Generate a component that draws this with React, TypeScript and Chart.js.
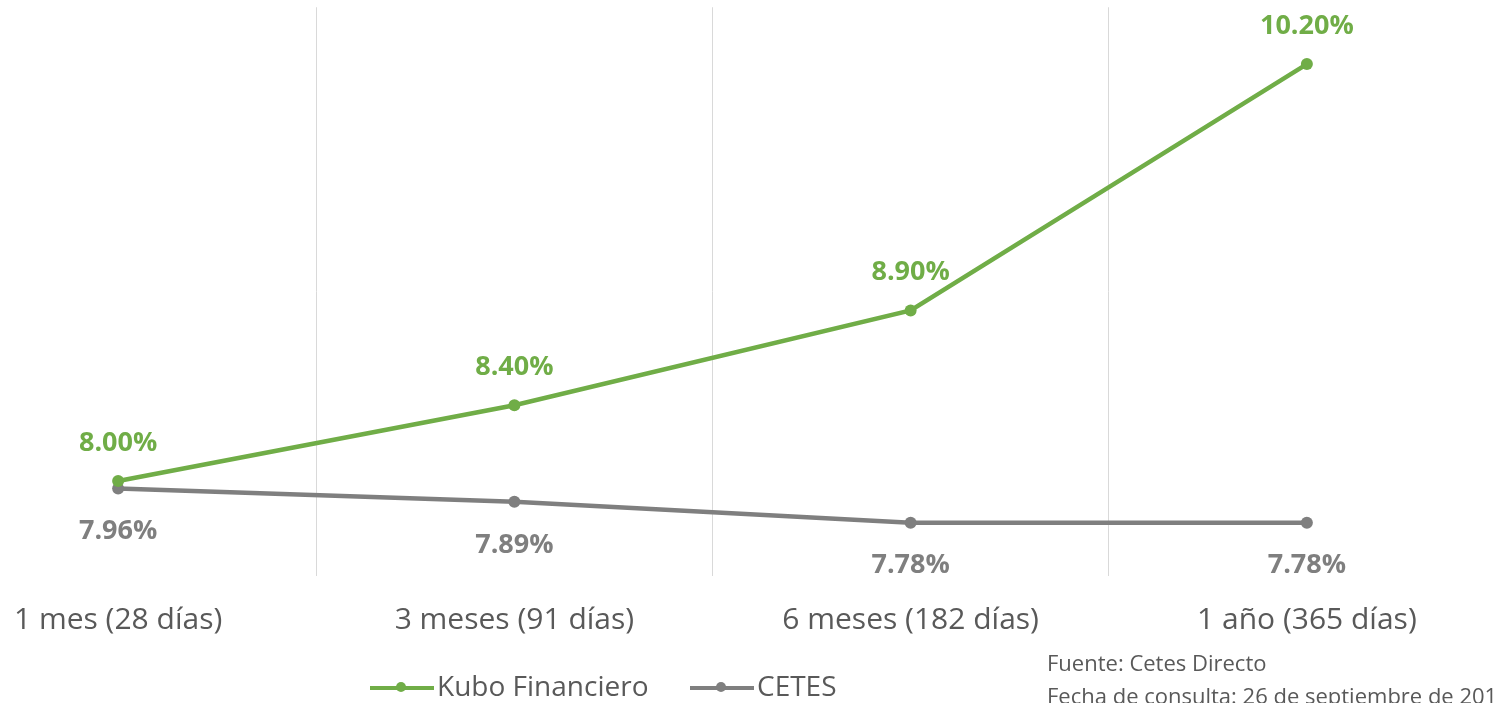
import React, { useEffect, useRef } from "react";
import { Chart, registerables } from "chart.js";

Chart.register(...registerables);

const categories = ["1 mes (28 días)", "3 meses (91 días)", "6 meses (182 días)", "1 año (365 días)"];
const kuboValues = [8.0, 8.4, 8.9, 10.2];
const cetesValues = [7.96, 7.89, 7.78, 7.78];
const seriesNames = ["Kubo Financiero", "CETES"];
const sourceLines = ["Fuente: Cetes Directo", "Fecha de consulta: 26 de septiembre de 2016"];

const GREEN = "#70AD47";
const GRAY = "#7F7F7F";
const TEXT = "#595959";
const FONT = "'Open Sans', Lato, sans-serif";

const CANVAS_W = 1600;
const CANVAS_H = 703;
const SHIFT = 80;

export default function App() {
  const ref = useRef<HTMLCanvasElement | null>(null);

  useEffect(() => {
    if (!ref.current) return;
    const labelsPlugin = {
      id: "valueLabels",
      afterDatasetsDraw(chart: any) {
        const ctx = chart.ctx;
        ctx.save();
        ctx.font = `bold 27px ${FONT}`;
        ctx.textAlign = "center";
        ctx.textBaseline = "middle";
        chart.data.datasets.forEach((ds: any, di: number) => {
          const meta = chart.getDatasetMeta(di);
          meta.data.forEach((pt: any, i: number) => {
            const v = ds.data[i] as number;
            const txt = v.toFixed(2) + "%";
            ctx.fillStyle = di === 0 ? GREEN : GRAY;
            const dy = di === 0 ? -38 : 43;
            ctx.fillText(txt, pt.x, pt.y + dy);
          });
        });
        ctx.restore();
      },
    };
    const legendPlugin = {
      id: "customLegend",
      afterDraw(chart: any) {
        const ctx = chart.ctx;
        ctx.save();
        const y = 688;
        const items = [
          { x: 370 + SHIFT, color: GREEN, text: seriesNames[0] },
          { x: 690 + SHIFT, color: GRAY, text: seriesNames[1] },
        ];
        ctx.font = `28px ${FONT}`;
        ctx.textBaseline = "middle";
        ctx.textAlign = "left";
        items.forEach((it) => {
          ctx.strokeStyle = it.color;
          ctx.lineWidth = 4;
          ctx.beginPath();
          ctx.moveTo(it.x, y);
          ctx.lineTo(it.x + 64, y);
          ctx.stroke();
          ctx.fillStyle = it.color;
          ctx.beginPath();
          ctx.arc(it.x + 31, y - 1, 5, 0, Math.PI * 2);
          ctx.fill();
          ctx.fillStyle = TEXT;
          ctx.fillText(it.text, it.x + 67, y);
        });
        ctx.font = `22px 'Open Sans', sans-serif`;
        ctx.fillStyle = TEXT;
        ctx.fillText(sourceLines[0], 1047 + SHIFT, 665);
        ctx.fillText(sourceLines[1], 1047 + SHIFT, 698);
        ctx.restore();
      },
    };

    const chart = new Chart(ref.current, {
      type: "line",
      data: {
        labels: categories,
        datasets: [
          {
            label: seriesNames[0],
            data: kuboValues,
            borderColor: GREEN,
            backgroundColor: GREEN,
            borderWidth: 4.5,
            pointRadius: 6,
            pointBackgroundColor: GREEN,
            pointBorderWidth: 0,
            tension: 0,
          },
          {
            label: seriesNames[1],
            data: cetesValues,
            borderColor: GRAY,
            backgroundColor: GRAY,
            borderWidth: 4.5,
            pointRadius: 6,
            pointBackgroundColor: GRAY,
            pointBorderWidth: 0,
            tension: 0,
          },
        ],
      },
      options: {
        animation: false,
        responsive: false,
        devicePixelRatio: 1,
        layout: { autoPadding: false, padding: { top: 7.25, right: CANVAS_W - 1585, bottom: 0, left: 0 } },
        plugins: {
          legend: { display: false },
          tooltip: { enabled: false },
        },
        scales: {
          x: {
            offset: true,
            grid: { offset: true, color: "#D9D9D9", lineWidth: 1, drawTicks: false },
            border: { display: false },
            ticks: { color: TEXT, font: { family: FONT, size: 30 }, padding: 27, maxRotation: 0 },
            afterFit: (s: any) => {
              s.height = CANVAS_H - 575.75;
            },
          },
          y: {
            display: false,
            min: 7.5,
            max: 10.5,
          },
        },
      },
      plugins: [labelsPlugin, legendPlugin],
    });
    return () => chart.destroy();
  }, []);

  return (
    <div style={{ position: "fixed", left: 0, top: 0, width: 1498, height: 703, overflow: "hidden", background: "#fff" }}>
      <canvas
        ref={ref}
        width={CANVAS_W}
        height={CANVAS_H}
        style={{ position: "absolute", left: -SHIFT, top: 0, width: CANVAS_W, height: CANVAS_H }}
      />
    </div>
  );
}
